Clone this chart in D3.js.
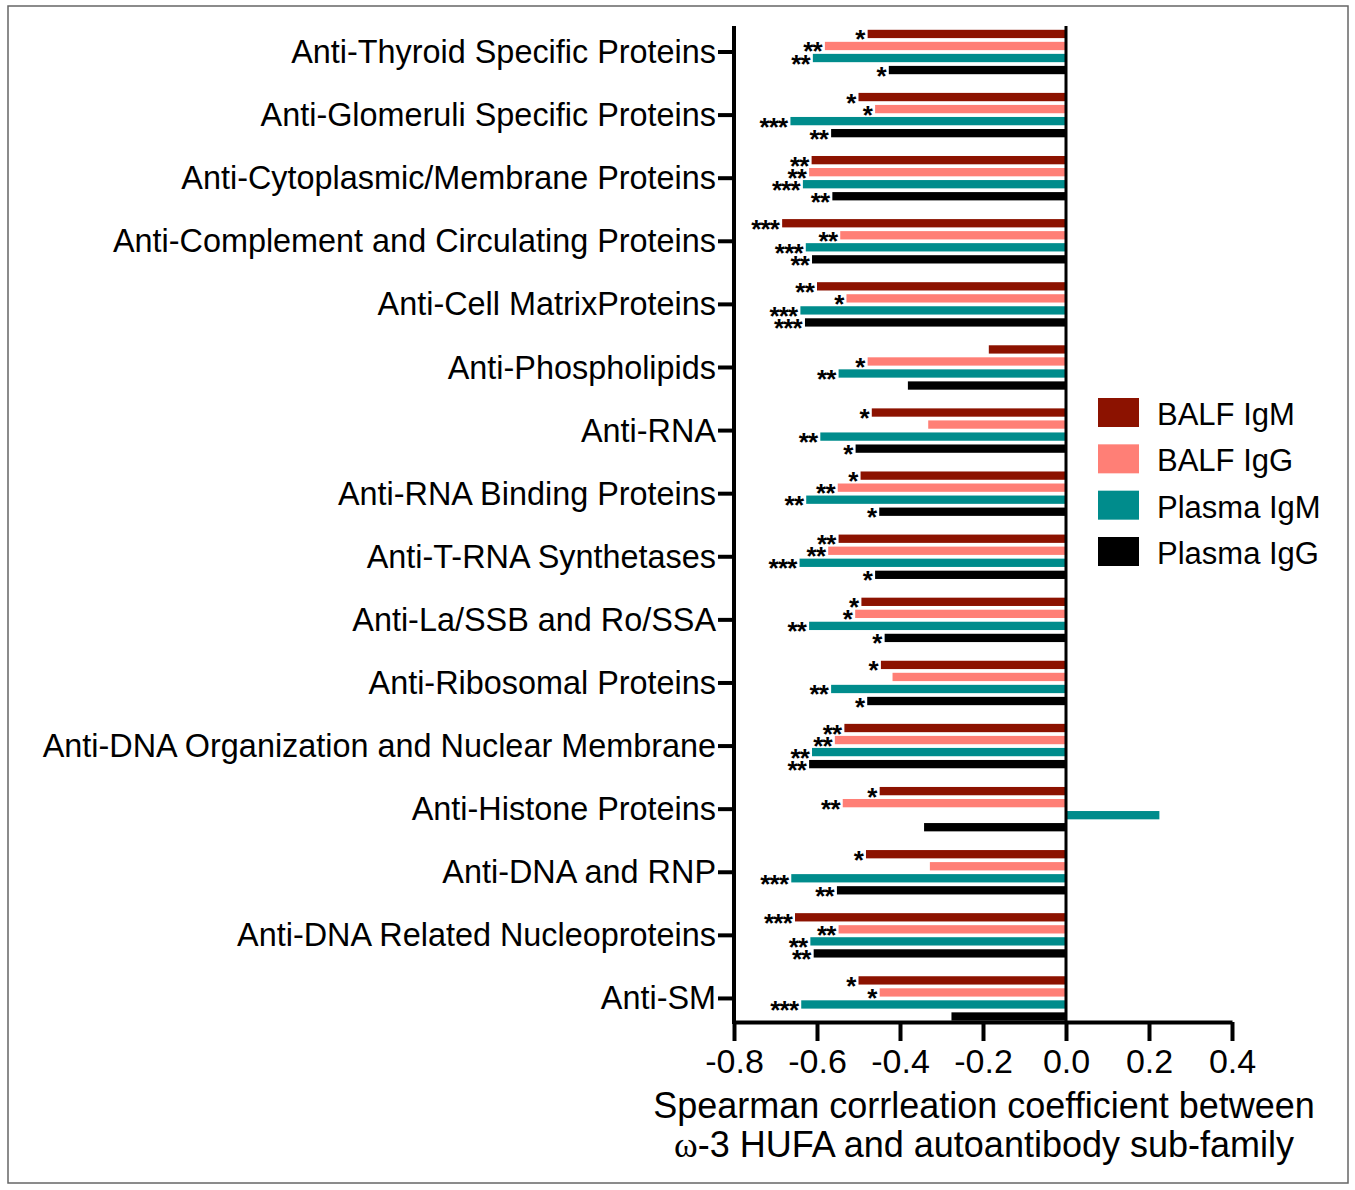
<!DOCTYPE html>
<html>
<head>
<meta charset="utf-8">
<script src="https://cdn.jsdelivr.net/npm/d3@7"></script>
<style>
  html, body { margin: 0; padding: 0; background: #fff; }
  svg { display: block; font-family: "Liberation Sans", Arial, sans-serif; }
</style>
</head>
<body>
<svg id="chart" width="1355" height="1190"></svg>
<script>
// ---------- DATA ----------
const categories = [
  "Anti-Thyroid Specific Proteins",
  "Anti-Glomeruli Specific Proteins",
  "Anti-Cytoplasmic/Membrane Proteins",
  "Anti-Complement and Circulating Proteins",
  "Anti-Cell MatrixProteins",
  "Anti-Phospholipids",
  "Anti-RNA",
  "Anti-RNA Binding Proteins",
  "Anti-T-RNA Synthetases",
  "Anti-La/SSB and Ro/SSA",
  "Anti-Ribosomal Proteins",
  "Anti-DNA Organization and Nuclear Membrane",
  "Anti-Histone Proteins",
  "Anti-DNA and RNP",
  "Anti-DNA Related Nucleoproteins",
  "Anti-SM"
];
const seriesNames = ["BALF IgM", "BALF IgG", "Plasma IgM", "Plasma IgG"];
const seriesColors = ["#8c1200", "#ff7f76", "#008c8c", "#000000"];

const balfIgM   = [-0.478, -0.500, -0.613, -0.684, -0.600, -0.186, -0.468, -0.495, -0.548, -0.493, -0.446, -0.534, -0.449, -0.482, -0.653, -0.500];
const balfIgG   = [-0.581, -0.460, -0.619, -0.544, -0.529, -0.478, -0.332, -0.550, -0.573, -0.508, -0.418, -0.557, -0.538, -0.328, -0.548, -0.449];
const plasmaIgM = [-0.610, -0.664, -0.634, -0.627, -0.640, -0.548, -0.592, -0.626, -0.642, -0.619, -0.566, -0.612,  0.225, -0.662, -0.616, -0.638];
const plasmaIgG = [-0.427, -0.566, -0.563, -0.612, -0.629, -0.381, -0.507, -0.450, -0.460, -0.437, -0.479, -0.619, -0.342, -0.552, -0.608, -0.276];

const sigBalfIgM   = ["*", "*", "**", "***", "**", "", "*", "*", "**", "*", "*", "**", "*", "*", "***", "*"];
const sigBalfIgG   = ["**", "*", "**", "**", "*", "*", "", "**", "**", "*", "", "**", "**", "", "**", "*"];
const sigPlasmaIgM = ["**", "***", "***", "***", "***", "**", "**", "**", "***", "**", "**", "**", "", "***", "**", "***"];
const sigPlasmaIgG = ["*", "**", "**", "**", "***", "", "*", "*", "*", "*", "*", "**", "", "**", "**", ""];

const xTicks = [-0.8, -0.6, -0.4, -0.2, 0.0, 0.2, 0.4];
const xTitle1 = "Spearman corrleation coefficient between";
const xTitle2a = "\u03C9";
const xTitle2b = "-3 HUFA and autoantibody sub-family";

const valuesBySeries = [balfIgM, balfIgG, plasmaIgM, plasmaIgG];
const sigBySeries = [sigBalfIgM, sigBalfIgG, sigPlasmaIgM, sigPlasmaIgG];

const rows = [];
categories.forEach((c, i) => {
  seriesNames.forEach((s, j) => {
    rows.push({ cat: c, series: s, value: valuesBySeries[j][i], sig: sigBySeries[j][i], color: seriesColors[j] });
  });
});

// ---------- LAYOUT ----------
const svg = d3.select("#chart");
const plotTop = 26, plotBottom = 1022;

// frame
svg.append("rect").attr("x", 8).attr("y", 6).attr("width", 1340).attr("height", 1177)
  .attr("fill", "none").attr("stroke", "#666").attr("stroke-width", 1.5);

const x = d3.scaleLinear().domain([-0.8, 0.4]).range([734, 1232]);
const y = d3.scaleBand().domain(categories).range([20.45, 1030]).padding(0);
const ys = d3.scaleBand().domain(seriesNames).range([-22.2, 22.2]).paddingInner(0.31).paddingOuter(0);
const color = d3.scaleOrdinal().domain(seriesNames).range(seriesColors);

const yc = c => y(c) + y.bandwidth() / 2;

// bars
svg.append("g").selectAll("rect").data(rows).join("rect")
  .attr("x", d => Math.min(x(d.value), x(0)))
  .attr("width", d => Math.abs(x(d.value) - x(0)))
  .attr("y", d => yc(d.cat) + ys(d.series))
  .attr("height", ys.bandwidth())
  .attr("fill", d => color(d.series));

// significance stars
svg.append("g").selectAll("text").data(rows.filter(d => d.sig)).join("text")
  .attr("x", d => x(d.value) - 3)
  .attr("y", d => yc(d.cat) + ys(d.series) + ys.bandwidth() / 2 + 14.5)
  .attr("text-anchor", "end")
  .attr("font-family", "'Liberation Sans', Arial, sans-serif")
  .attr("font-weight", "bold")
  .attr("font-size", 26)
  .attr("letter-spacing", -0.8)
  .attr("fill", "#000")
  .text(d => d.sig);

// zero line
svg.append("line").attr("x1", x(0)).attr("x2", x(0)).attr("y1", plotTop).attr("y2", plotBottom)
  .attr("stroke", "#000").attr("stroke-width", 3);

// y axis
const yAxis = svg.append("g").attr("transform", `translate(${x(-0.8)},0)`)
  .call(d3.axisLeft(y).tickSize(16).tickSizeOuter(0).tickPadding(2));
yAxis.select(".domain").remove();
yAxis.selectAll(".tick line").attr("stroke", "#000").attr("stroke-width", 4);
yAxis.selectAll(".tick text").attr("font-size", 32.4).attr("fill", "#000")
  .attr("font-family", "'Liberation Sans', Arial, sans-serif").attr("dy", "0.34em");
svg.append("line").attr("x1", x(-0.8)).attr("x2", x(-0.8)).attr("y1", plotTop).attr("y2", plotBottom + 2)
  .attr("stroke", "#000").attr("stroke-width", 4);

// x axis
const xAxis = svg.append("g").attr("transform", `translate(0,${plotBottom})`)
  .call(d3.axisBottom(x).tickValues(xTicks).tickFormat(d3.format(".1f")).tickSize(19).tickSizeOuter(0).tickPadding(8));
xAxis.select(".domain").attr("stroke", "#000").attr("stroke-width", 4);
xAxis.selectAll(".tick line").attr("stroke", "#000").attr("stroke-width", 4);
xAxis.selectAll(".tick text").attr("font-size", 34).attr("fill", "#000")
  .attr("font-family", "'Liberation Sans', Arial, sans-serif")
  .text(d => d3.format(".1f")(d).replace("\u2212", "-"));

// x title
const titleX = 984;
svg.append("text").attr("x", titleX).attr("y", 1118).attr("text-anchor", "middle")
  .attr("font-size", 36).attr("fill", "#000").text(xTitle1);
const t2 = svg.append("text").attr("x", titleX).attr("y", 1157).attr("text-anchor", "middle")
  .attr("font-size", 36).attr("fill", "#000");
t2.append("tspan").attr("font-family", "'Liberation Serif', 'Times New Roman', serif").text(xTitle2a);
t2.append("tspan").text(xTitle2b);

// legend
const ly = d3.scalePoint().domain(seriesNames).range([398, 537]);
const legend = svg.append("g");
const li = legend.selectAll("g").data(seriesNames).join("g")
  .attr("transform", d => `translate(1098,${ly(d)})`);
li.append("rect").attr("width", 41).attr("height", 29).attr("fill", d => color(d));
li.append("text").attr("x", 59).attr("y", 27).attr("font-size", 31).attr("fill", "#000").text(d => d);
</script>
</body>
</html>
